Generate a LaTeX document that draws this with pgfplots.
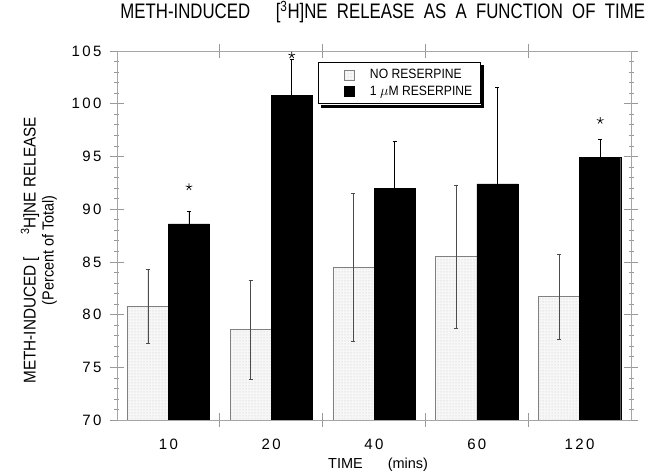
\documentclass[border=0pt]{standalone}
\usepackage{fontspec}
\setmainfont{Liberation Sans}
\newfontfamily\narrow{Liberation Sans}[FakeStretch=0.8]
\newfontfamily\semi{Liberation Sans}[FakeStretch=0.9]
\newfontfamily\tickfont{Liberation Sans}[LetterSpace=16]
\usepackage{pgfplots}
\usepackage{pgfplotstable}
\pgfplotsset{compat=1.18}
\usetikzlibrary{patterns,calc}

% time groups at 0..4 (10, 20, 40, 60, 120 mins)
\pgfplotstableread{
x y e
0 80.8 3.5
1 78.6 4.7
2 84.5 7.0
3 85.5 6.8
4 81.7 4.0
}\nores
\pgfplotstableread{
x y e
0 88.6 1.2
1 100.8 3.4
2 92.0 4.4
3 92.4 9.2
4 94.9 1.7
}\withres

\begin{document}
\begin{tikzpicture}
\useasboundingbox (-117pt,-53pt) rectangle (534pt,420pt);
\begin{axis}[
  scale only axis, width=514pt, height=369pt,
  xmin=-0.5, xmax=4.5, ymin=70, ymax=105,
  ybar, bar width=0.4,
  axis line style={gray!70, line width=0.6pt},
  tick style={gray!80, line width=0.6pt},
  tick align=center,
  major tick length=14pt, minor tick length=5pt,
  ytick={70,75,...,105}, yticklabels={70,75,80,85,90,95,100,105},
  minor y tick num=4,
  xtick={0.5,1.5,2.5,3.5}, xticklabels={},
  extra x ticks={0,1,2,3,4}, extra x tick labels={10,20,40,60,120},
  extra x tick style={major tick length=0pt},
  yticklabel style={font=\tickfont\fontsize{15}{15}\selectfont, xshift=-5pt},
  xticklabel style={font=\tickfont\fontsize{15}{15}\selectfont, anchor=base, yshift=-30pt},
  title={METH-INDUCED\quad\ [\textsuperscript{3}H]NE\ \ RELEASE\ \ AS\ \ A\ \ FUNCTION\ \ OF\ \ TIME},
  title style={at={(0.517,1)}, anchor=base, yshift=26pt, font=\narrow\fontsize{21}{21}\selectfont},
  xlabel={TIME\hspace{25pt}(mins)},
  xlabel style={at={(axis description cs:0.508,0)}, anchor=base, yshift=-49pt, font=\fontsize{14.5}{14.5}\selectfont},
  ylabel={{\fontsize{17}{18}\selectfont METH-INDUCED [\hspace{22pt}\textsuperscript{3}H]NE RELEASE}\\(Percent of Total)},
  ylabel style={at={(axis description cs:-0.152,0.46)}, anchor=center, align=center, font=\semi\fontsize{16}{18}\selectfont},
  legend style={at={(0.391,0.97)}, anchor=north west, draw=black, line width=0.8pt,
    font=\semi\fontsize{13.5}{15}\selectfont, inner xsep=6pt, inner ysep=5pt,
    fill=white, row sep=1.5pt, name=leg,
    /tikz/every odd column/.append style={column sep=14pt}},
  legend cell align=left,
  legend image code/.code={\path (0pt,0pt); \draw[#1, line width=0.4pt] (19pt,-5pt) rectangle (29pt,5pt);},
]
\addplot[bar shift=-0.2, fill=gray!6, draw=gray, line width=0.6pt,
  postaction={pattern=dots, pattern color=gray!45},
  error bars/.cd, y dir=both, y explicit,
  error bar style={gray!60!black, line width=0.6pt},
  error mark options={rotate=90, mark size=2pt, gray!60!black}]
  table[x=x, y=y, y error=e]{\nores};
\addplot[bar shift=0.2, fill=black, draw=black,
  error bars/.cd, y dir=plus, y explicit,
  error bar style={black, line width=0.6pt},
  error mark options={rotate=90, mark size=2pt, black}]
  table[x=x, y=y, y error=e]{\withres};
\legend{NO RESERPINE, 1 $\mu$M RESERPINE}
\addplot[only marks, mark=star, mark size=3.5pt, black, line width=0.7pt, forget plot]
  coordinates {(0.2,92.1)(1.2,104.6)(4.2,98.4)};
\end{axis}
% legend drop shadow
\fill[black] ($(leg.north east)+(0.4pt,-3pt)$) rectangle ($(leg.south east)+(3.4pt,-3.4pt)$);
\fill[black] ($(leg.south west)+(3pt,-0.4pt)$) rectangle ($(leg.south east)+(3.4pt,-3.4pt)$);
\end{tikzpicture}
\end{document}
